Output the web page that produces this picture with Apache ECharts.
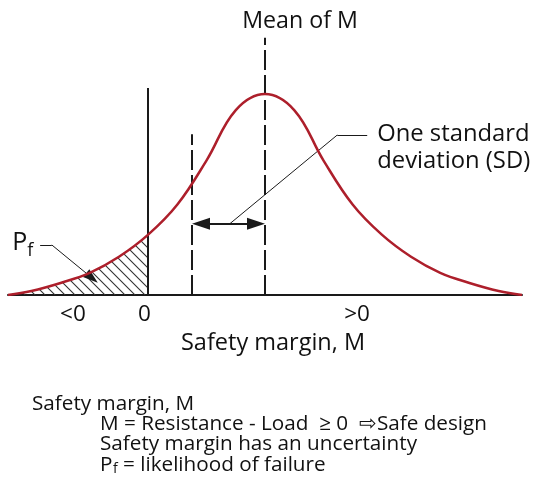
<!DOCTYPE html>
<html>
<head>
<meta charset="utf-8">
<title>Safety margin</title>
<script src="https://cdn.jsdelivr.net/npm/echarts@6/dist/echarts.min.js"></script>
<style>
    html, body { margin: 0; padding: 0; background: #fff; }
    #main { width: 534px; height: 494px; }
</style>
</head>
<body>
<div id="main"></div>
<script>
// bell curve: M (0 = zero margin, 1 unit ~ 1 SD), height relative to peak
var curveX = [-1.92, -1.6, -1.2, -0.8, -0.4, 0, 0.4, 0.8, 1.2, 1.6, 2.0, 2.4, 2.8, 3.2, 3.6, 4.0, 4.4, 4.8, 5.12];
var curveY = [0, 0.02, 0.06, 0.11, 0.19, 0.30, 0.45, 0.67, 0.92, 1.0, 0.92, 0.67, 0.45, 0.30, 0.19, 0.11, 0.06, 0.02, 0];

// axis labels under the baseline
var tickLabels = ['<0', '0', '>0'];
var tickPos = [-1.03, -0.05, 2.86];

// vertical lines: zero, mean - 1 SD, mean
var zeroX = 0, zeroTop = 1.03;
var sdX = 0.6, sdTop = 0.8;
var meanX = 1.6, meanTop = 1.28;
var arrowY = 0.355;

// leader lines
var sdLeader = [[1.12, 0.355], [2.59, 0.796], [3.0, 0.796]];
var pfLeader = [[-1.48, 0.249], [-1.32, 0.249], [-0.77, 0.085]];

var curve = [], failArea = [];
for (var i = 0; i < curveX.length; i++) {
    curve.push([curveX[i], curveY[i]]);
    if (curveX[i] <= 0) failArea.push([curveX[i], curveY[i]]);
}

// hatch pattern for P_f
var hatch = document.createElement('canvas');
hatch.width = 10; hatch.height = 10;
var ctx = hatch.getContext('2d');
ctx.strokeStyle = '#333';
ctx.lineWidth = 1.1;
ctx.beginPath();
ctx.moveTo(0, 0); ctx.lineTo(10, 10);
ctx.moveTo(-1, 9); ctx.lineTo(1, 11);
ctx.moveTo(9, -1); ctx.lineTo(11, 1);
ctx.stroke();

var FONT = 'Open Sans';
var BLACK = { color: '#1a1a1a', width: 2, type: 'solid' };
var DASH = { color: '#1a1a1a', width: 2, type: [20, 5] };
var THIN = { color: '#1a1a1a', width: 1, type: 'solid' };
// arrow heads are centred on their end point, so pull the ends in by half a head
var pxPerUnit = (534 - 8 - 12) / (5.12 + 1.92);
var headIn = 9 / pxPerUnit;

var myChart = echarts.init(document.getElementById('main'));
var option = {
    animation: false,
    grid: { left: 8, right: 12, top: 20, bottom: 199 },
    xAxis: {
        type: 'value', min: -1.92, max: 5.12,
        axisLine: { show: true, onZero: false, lineStyle: { color: '#1a1a1a', width: 2 } },
        axisTick: { show: false }, axisLabel: { show: false }, splitLine: { show: false }
    },
    yAxis: { type: 'value', min: 0, max: 1.368, show: false },
    series: [
        {
            type: 'line', data: failArea, smooth: 0.4, symbol: 'none',
            lineStyle: { width: 0 }, areaStyle: { color: { image: hatch, repeat: 'repeat' }, opacity: 1 },
            z: 1
        },
        {
            type: 'line', data: curve, smooth: 0.4, symbol: 'none',
            lineStyle: { color: '#ad1f2b', width: 2.5 }, z: 5,
            markLine: {
                silent: true, symbol: ['none', 'none'], label: { show: false },
                data: [
                    [{ coord: [zeroX, 0] }, { coord: [zeroX, zeroTop], lineStyle: BLACK }],
                    [{ coord: [sdX, 0] }, { coord: [sdX, sdTop], lineStyle: DASH }],
                    [{ coord: [meanX, 0] }, { coord: [meanX, meanTop], lineStyle: DASH }],
                    [{ coord: [sdX + headIn, arrowY], symbol: 'triangle', symbolSize: [12, 18] },
                     { coord: [meanX - headIn, arrowY], symbol: 'triangle', symbolSize: [12, 18], lineStyle: BLACK }],
                    [{ coord: sdLeader[0] }, { coord: sdLeader[1], lineStyle: THIN }],
                    [{ coord: sdLeader[1] }, { coord: sdLeader[2], lineStyle: THIN }],
                    [{ coord: pfLeader[0] }, { coord: pfLeader[1], lineStyle: THIN }],
                    [{ coord: pfLeader[1] }, { coord: pfLeader[2], symbol: 'triangle', symbolSize: [10, 15], lineStyle: THIN }]
                ]
            }
        }
    ]
};
myChart.setOption(option);

// text placed from axis coordinates
function px(x, y) { return myChart.convertToPixel({ gridIndex: 0 }, [x, y]); }
function txt(text, x, y, size, align) {
    return { type: 'text', x: x, y: y, style: { text: text, fill: '#111', font: size + 'px "' + FONT + '"', align: align || 'left', verticalAlign: 'middle' } };
}
var g = [];
for (var k = 0; k < tickLabels.length; k++) {
    var p = px(tickPos[k], 0);
    g.push(txt(tickLabels[k], p[0], p[1] + 20, 22.5, 'center'));
}
g.push(txt('Safety margin, M', px(1.71, 0)[0], 343, 23.5, 'center'));
g.push(txt('Mean of M', 300, 21, 23.2, 'center'));
var lp = px(sdLeader[2][0], sdLeader[2][1]);
g.push(txt('One standard', lp[0] + 10, lp[1] - 1, 23.8));
g.push(txt('deviation (SD)', lp[0] + 10, lp[1] + 26, 23.8));
var pp = px(pfLeader[0][0], pfLeader[0][1]);
g.push(txt('P', pp[0] - 28, pp[1] - 2, 25));
g.push(txt('f', pp[0] - 13, pp[1] + 6, 18));

// notes under the chart
g.push(txt('Safety margin, M', 32, 404, 20.7));
g.push(txt('M = Resistance - Load  \u2265 0  \u21e8Safe design', 100, 424, 20.7));
g.push(txt('Safety margin has an uncertainty', 100, 444, 20.7));
g.push(txt('P', 100, 465, 20.7));
g.push(txt('f', 113, 469, 14));
g.push(txt('= likelihood of failure', 123, 465, 20.7));
myChart.setOption({ graphic: g });
</script>
</body>
</html>
